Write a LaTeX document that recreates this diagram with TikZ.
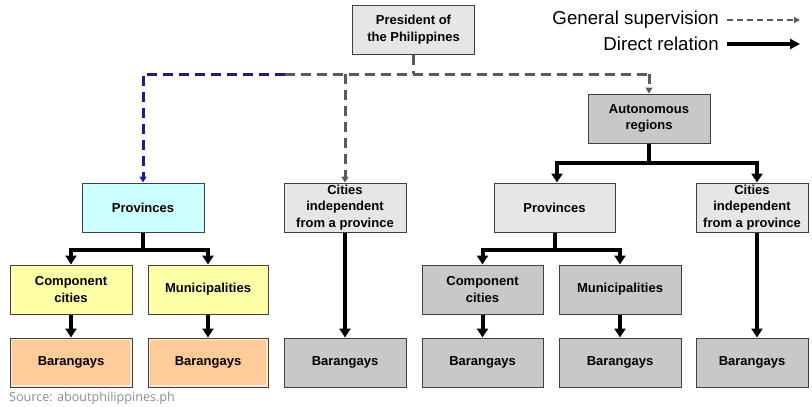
\documentclass[tikz,border=0pt]{standalone}
\usepackage{fontspec}
\setmainfont{Liberation Sans}
\newfontfamily\srcfont{Open Sans}
\usetikzlibrary{arrows.meta}
\definecolor{lgray}{HTML}{E6E6E6}
\definecolor{dgray}{HTML}{C8C8C8}
\definecolor{cyanbox}{HTML}{CCFFFF}
\definecolor{yelbox}{HTML}{FFFFA8}
\definecolor{orabox}{HTML}{FFCC99}
\definecolor{navyline}{HTML}{1C1C8C}
\definecolor{dashgray}{HTML}{5A5A5A}
\definecolor{bordergray}{HTML}{404040}
\begin{document}
\begin{tikzpicture}[x=1pt,y=-1pt,
  box/.style={draw=bordergray, line width=1pt, minimum height=49pt, minimum width=122pt,
    inner sep=0pt, align=center, font=\bfseries\fontsize{13}{16.5}\selectfont},
  light/.style={box, fill=lgray},
  dark/.style={box, fill=dgray},
  cyanb/.style={box, fill=cyanbox},
  yelb/.style={box, fill=yelbox},
  orab/.style={box, fill=orabox, path picture={\draw[line width=4pt, orabox!45!white]
      (path picture bounding box.south west) rectangle (path picture bounding box.north east);}},
  tkarr/.style={line width=4pt, line join=miter, -{Triangle[length=9pt,width=11pt]}},
  dgr/.style={line width=3pt, dashgray, dash pattern=on 10pt off 6pt},
  dgrarr/.style={dgr, -{Triangle[length=6pt,width=7pt]}},
  bluearr/.style={line width=3pt, navyline, dash pattern=on 10pt off 6pt, -{Triangle[length=6pt,width=7pt]}},
  legtext/.style={anchor=east, inner sep=0pt, font=\fontsize{18.7}{20}\selectfont}
]
\useasboundingbox (0,0) rectangle (812,407);

% nodes
\node[light] (pres) at (413.5,29.5) {President of\\the Philippines};
\node[dark] (auto) at (649,118.5) {Autonomous\\regions};
\node[cyanb] (provL) at (143,207.5) {Provinces};
\node[light] (citL) at (345,207.5) {Cities\\independent\\from a province};
\node[light, minimum width=121pt] (provR) at (554.5,207.5) {Provinces};
\node[light, minimum width=112pt] (citR) at (752,207.5) {Cities\\independent\\from a province};
\node[yelb] (compL) at (71,289.5) {Component\\cities};
\node[yelb, minimum width=120pt] (munL) at (208,289.5) {Municipalities};
\node[dark, minimum width=121pt] (compR) at (482.5,289.5) {Component\\cities};
\node[dark] (munR) at (620,289.5) {Municipalities};
\node[orab] (barL1) at (71,362.5) {Barangays};
\node[orab, minimum width=120pt] (barL2) at (208,362.5) {Barangays};
\node[dark] (barM) at (345,362.5) {Barangays};
\node[dark, minimum width=121pt] (barR1) at (482.5,362.5) {Barangays};
\node[dark] (barR2) at (620,362.5) {Barangays};
\node[dark, minimum width=112pt] (barR3) at (752,362.5) {Barangays};

% general supervision (dashed)
\coordinate (hj) at (413.5,74);
\coordinate (hsplit) at (285,74);
\coordinate (hleft) at (143,74);
\draw[dgr] (pres.south) -- (hj);
\draw[dgr] (hsplit) -- (auto.north |- hj);
\draw[dgrarr] (citL.north |- hj) -- (citL.north);
\draw[dgrarr] (auto.north |- hj) -- (auto.north);
\draw[bluearr] (hsplit) -- (hleft) -- (provL.north);

% direct relations (thick)
\draw[tkarr] (auto.south) -- ++(0,19) -| ([xshift=2.5pt]provR.north);
\draw[tkarr] (auto.south) -- ++(0,19) -| ([xshift=5pt]citR.north);
\draw[tkarr] (provL.south) -- ++(0,17) -| (compL.north);
\draw[tkarr] (provL.south) -- ++(0,17) -| (munL.north);
\draw[tkarr] (provR.south) -- ++(0,17) -| (compR.north);
\draw[tkarr] (provR.south) -- ++(0,17) -| (munR.north);
\draw[tkarr] (compL) -- (barL1);
\draw[tkarr] (munL) -- (barL2);
\draw[tkarr] (citL) -- (barM);
\draw[tkarr] (compR) -- (barR1);
\draw[tkarr] (munR) -- (barR2);
\draw[tkarr] ([xshift=5pt]citR.south) -- ([xshift=5pt]barR3.north);

% legend
\node[legtext] (lg1) at (719,20) {General supervision};
\node[legtext] (lg2) at (719,44) {Direct relation};
\coordinate (lg1e) at (800,20);
\coordinate (lg2e) at (800,44);
\draw[line width=1.3pt, dashgray, dash pattern=on 6pt off 4pt, -{Triangle[length=6pt,width=6pt]}]
  ([xshift=8pt]lg1.east) -- (lg1e);
\draw[line width=3.5pt, -{Triangle[length=10pt,width=10pt]}] ([xshift=8pt]lg2.east) -- (lg2e);

% source
\node[anchor=west, inner sep=0pt, font=\srcfont\fontsize{12.6}{14}\selectfont, text=black!45] (src) at (9,398) {Source: aboutphilippines.ph};
\end{tikzpicture}
\end{document}
